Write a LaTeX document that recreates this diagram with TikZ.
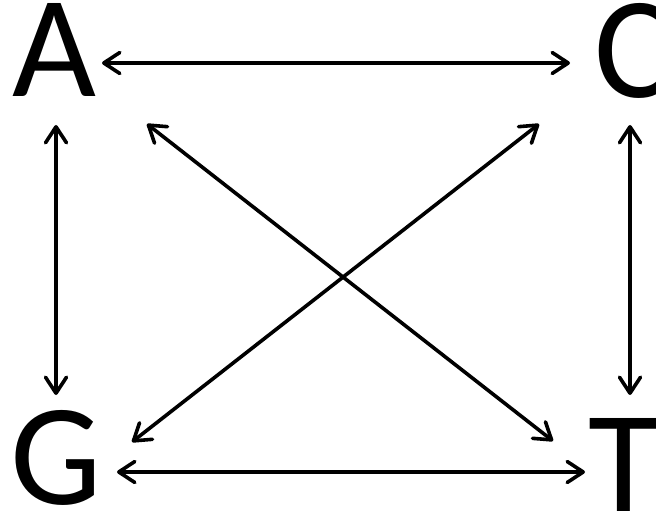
\documentclass[tikz,border=0pt]{standalone}
\usepackage{fontspec}
\setmainfont{Carlito}
\usetikzlibrary{arrows.meta}
\begin{document}
\begin{tikzpicture}[x=1pt,y=-1pt,
  letter/.style={anchor=base,inner sep=0pt,font=\fontsize{145}{145}\selectfont},
  link/.style={line width=3.6pt,line cap=round,{Straight Barb[length=16pt,width=21pt,line cap=round,line join=round]}-{Straight Barb[length=16pt,width=21pt,line cap=round,line join=round]}}]
\useasboundingbox (0,0) rectangle (656,516);
\node[letter] (A) at (54,97) {A};
\node[letter] (C) at (633,98) {C};
\node[letter] (G) at (56,504) {G};
\node[letter] (T) at (624,511) {T};
\coordinate (ac1) at (102,63);
\coordinate (ac2) at (570,63);
\coordinate (ag1) at (56,125);
\coordinate (ag2) at (56,395);
\coordinate (ct1) at (630,125);
\coordinate (ct2) at (630,395);
\coordinate (gt1) at (117,472);
\coordinate (gt2) at (585,472);
\coordinate (at1) at (147,124);
\coordinate (at2) at (553,441);
\coordinate (cg1) at (539,124);
\coordinate (cg2) at (132,442);
\draw[link] (ac1) -- (ac2);
\draw[link] (ag1) -- (ag2);
\draw[link] (ct1) -- (ct2);
\draw[link] (gt1) -- (gt2);
\draw[link] (at1) -- (at2);
\draw[link] (cg1) -- (cg2);
\end{tikzpicture}
\end{document}
